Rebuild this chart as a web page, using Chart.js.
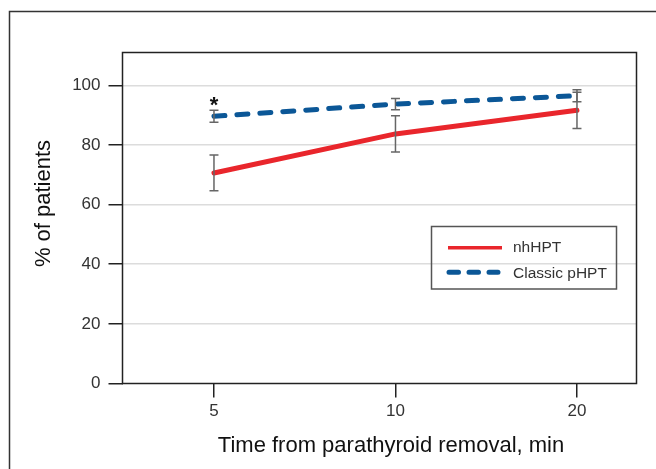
<!DOCTYPE html>
<html><head><meta charset="utf-8">
<script src="https://cdn.jsdelivr.net/npm/chart.js@4/dist/chart.umd.min.js"></script>
<style>html,body{margin:0;padding:0;background:#fff}#wrap{width:656px;height:469px}</style>
</head><body><div id="wrap"><canvas id="c" width="656" height="469"></canvas></div>
<script>
const categories = ['5', '10', '20'];
const nhHPT = [70.6, 83.7, 91.6];
const nhHPTErr = [6.0, 6.1, 6.1];
const classicPHPT = [89.6, 93.7, 96.5];
const classicPHPTErr = [2.0, 1.9, 2.0];
const yTicks = [0, 20, 40, 60, 80, 100];
const seriesNames = ['nhHPT', 'Classic pHPT'];
const xTitle = 'Time from parathyroid removal, min';
const yTitle = '% of patients';
const markText = '*';
const markIndex = 0;

const FONT = '"Liberation Sans", Arial, sans-serif';
const RED = '#e9262c';
const BLUE = '#0b5797';
const errs = [nhHPTErr, classicPHPTErr];

const toPts = arr => arr.map((v, i) => ({x: i, y: v}));

const decor = {
  id: 'decor',
  beforeDraw(chart) {
    const ctx = chart.ctx;
    ctx.save();
    ctx.fillStyle = '#fff';
    ctx.fillRect(0, 0, chart.width, chart.height);
    ctx.strokeStyle = '#333';
    ctx.lineWidth = 1.5;
    ctx.strokeRect(9.5, 11.5, chart.width + 20, chart.height + 20);
    ctx.restore();
  },
  beforeDatasetsDraw(chart) {
    const {ctx, chartArea: a} = chart;
    ctx.save();
    ctx.strokeStyle = '#222';
    ctx.lineWidth = 1.5;
    ctx.strokeRect(a.left, a.top, a.right - a.left, a.bottom - a.top);
    ctx.restore();
  },
  afterDatasetsDraw(chart) {
    const {ctx} = chart;
    const xs = chart.scales.x, ys = chart.scales.y;
    ctx.save();
    ctx.strokeStyle = '#666';
    ctx.lineWidth = 1.5;
    chart.data.datasets.forEach((ds, di) => {
      ds.data.forEach((p, i) => {
        const e = errs[di][i];
        const x = xs.getPixelForValue(p.x);
        const y1 = ys.getPixelForValue(p.y + e);
        const y2 = ys.getPixelForValue(p.y - e);
        ctx.beginPath();
        ctx.moveTo(x, y1); ctx.lineTo(x, y2);
        ctx.moveTo(x - 4.5, y1); ctx.lineTo(x + 4.5, y1);
        ctx.moveTo(x - 4.5, y2); ctx.lineTo(x + 4.5, y2);
        ctx.stroke();
      });
    });
    ctx.restore();
  },
  afterDraw(chart) {
    const {ctx} = chart;
    const xs = chart.scales.x, ys = chart.scales.y;
    ctx.save();
    // asterisk
    ctx.fillStyle = '#111';
    ctx.font = 'bold 22px ' + FONT;
    ctx.textAlign = 'center';
    ctx.textBaseline = 'alphabetic';
    ctx.fillText(markText, xs.getPixelForValue(markIndex),
      ys.getPixelForValue(classicPHPT[markIndex] + classicPHPTErr[markIndex]) + 1.5);
    // axis titles
    ctx.fillStyle = '#111';
    ctx.font = '22px ' + FONT;
    ctx.fillText(xTitle, 391, 452);
    ctx.save();
    ctx.translate(50, 203.5);
    ctx.rotate(-Math.PI / 2);
    ctx.fillText(yTitle, 0, 0);
    ctx.restore();
    // legend
    ctx.strokeStyle = '#555';
    ctx.lineWidth = 1.5;
    ctx.strokeRect(431.5, 226.5, 185, 62.5);
    const dss = chart.data.datasets;
    ctx.lineCap = 'butt';
    ctx.strokeStyle = dss[0].borderColor;
    ctx.lineWidth = 3.5;
    ctx.beginPath(); ctx.moveTo(448, 247.7); ctx.lineTo(502, 247.7); ctx.stroke();
    ctx.strokeStyle = dss[1].borderColor;
    ctx.lineWidth = 5;
    ctx.lineCap = 'round';
    ctx.setLineDash([9.5, 10.5]);
    ctx.beginPath(); ctx.moveTo(449, 272.3); ctx.lineTo(498, 272.3); ctx.stroke();
    ctx.setLineDash([]);
    ctx.fillStyle = '#333';
    ctx.font = '15.5px ' + FONT;
    ctx.textAlign = 'left';
    ctx.fillText(dss[0].label, 513, 252);
    ctx.fillText(dss[1].label, 513, 278.3);
    ctx.restore();
  }
};

new Chart(document.getElementById('c'), {
  type: 'line',
  data: {
    datasets: [
      {label: seriesNames[0], data: toPts(nhHPT), borderColor: RED, backgroundColor: RED,
       borderWidth: 5, pointRadius: 0, tension: 0, borderCapStyle: 'round', borderJoinStyle: 'round'},
      {label: seriesNames[1], data: toPts(classicPHPT), borderColor: BLUE, backgroundColor: BLUE,
       borderWidth: 5, pointRadius: 0, tension: 0, borderDash: [11, 12], borderCapStyle: 'round'}
    ]
  },
  options: {
    responsive: false,
    animation: false,
    layout: {padding: {left: 0, top: 52.5, right: 19.5, bottom: 0}},
    plugins: {legend: {display: false}, tooltip: {enabled: false}},
    scales: {
      x: {
        type: 'linear', min: -0.504, max: 2.328,
        afterBuildTicks: s => { s.ticks = categories.map((c, i) => ({value: i})); },
        afterFit: s => { s.height = 85.5; },
        border: {display: false},
        grid: {drawOnChartArea: false, drawTicks: true, tickLength: 14, tickColor: '#222', lineWidth: 1.5},
        ticks: {callback: v => categories[v], color: '#333', padding: 4, font: {family: FONT, size: 17}, maxRotation: 0}
      },
      y: {
        min: 0, max: 111,
        afterBuildTicks: s => { s.ticks = yTicks.map(v => ({value: v})); },
        afterFit: s => { s.width = 122.5; },
        border: {display: false},
        grid: {color: c => (c.tick && c.tick.value === 0) ? 'rgba(0,0,0,0)' : '#dcdcdc', lineWidth: 1.5,
               drawTicks: true, tickLength: 14, tickColor: '#222'},
        ticks: {color: '#333', padding: 8, font: {family: FONT, size: 17}}
      }
    }
  },
  plugins: [decor]
});
</script></body></html>
